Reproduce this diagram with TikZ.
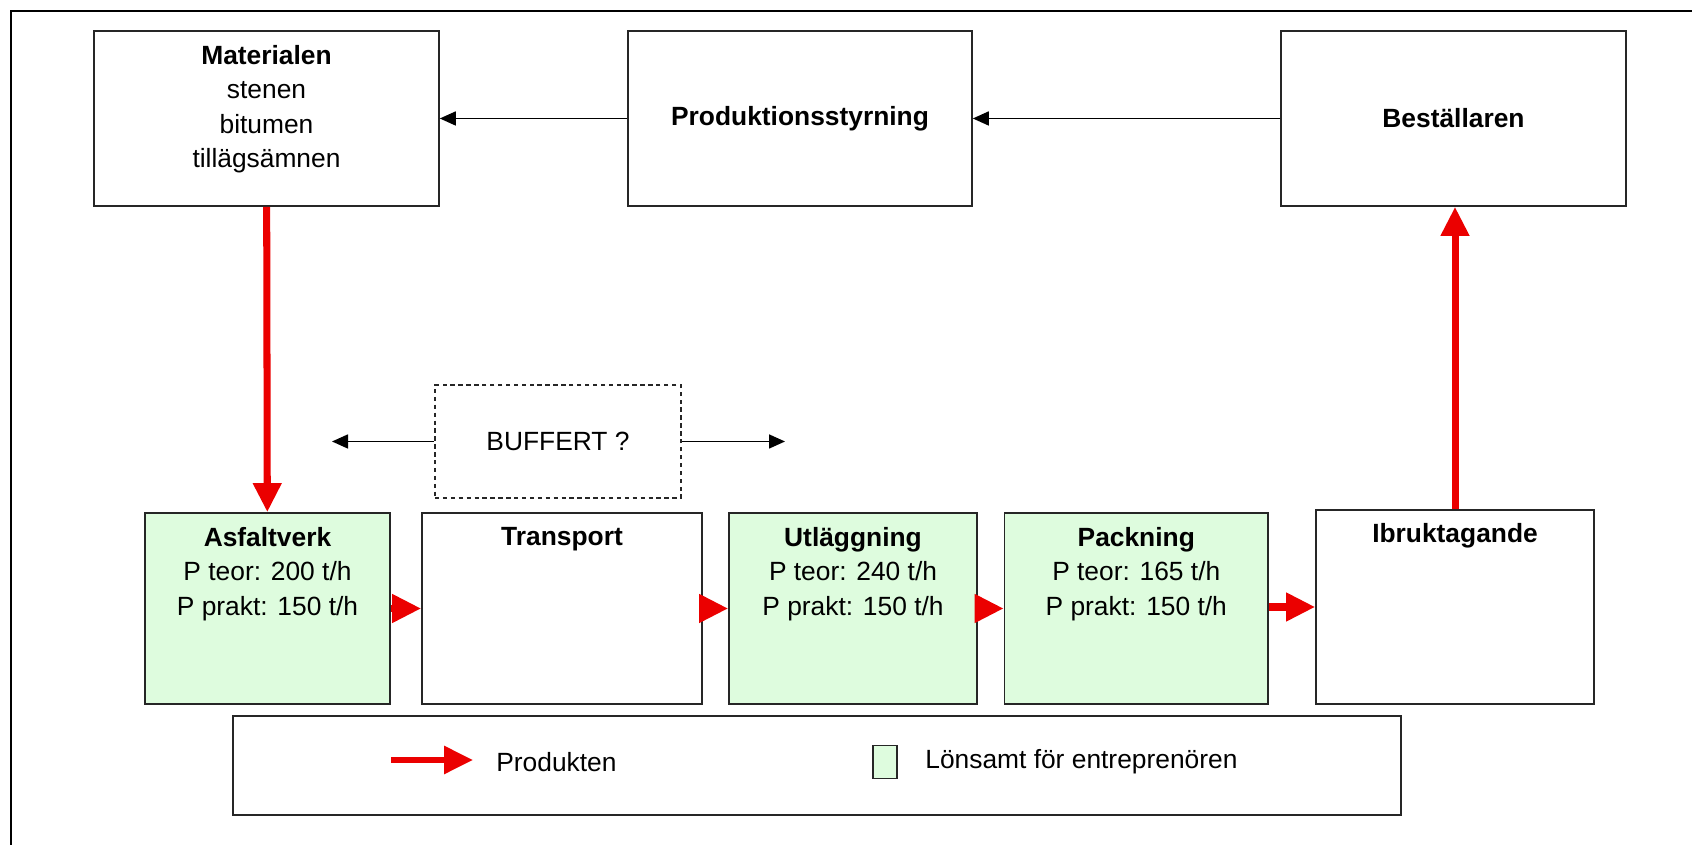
\documentclass[tikz,border=0pt]{standalone}
\usepackage{fontspec}
\setmainfont{Liberation Sans}
\definecolor{lonsgreen}{RGB}{222, 252, 222}
\definecolor{prodred}{RGB}{235, 0, 0}
\usetikzlibrary{arrows.meta, positioning}

\begin{document}
\begin{tikzpicture}[
  box/.style={draw=black!85, line width=0.9pt, inner sep=0pt, align=center,
              font=\fontsize{15}{19.6}\selectfont},
  txt/.style={inner sep=0pt, align=center, font=\fontsize{15}{19.6}\selectfont},
  prodarrow/.style={-{Triangle[length=0.58cm, width=0.54cm]}, line width=4pt, prodred},
  ctrlarrow/.style={-{Triangle[length=0.32cm, width=0.28cm]}, line width=0.9pt},
]
\useasboundingbox (0,0) rectangle (33.84,16.9);

% Frame
\draw[line width=1pt] (0.22,0) -- (0.22,16.68) -- (33.84,16.68);

% Top row
\node[box, minimum width=6.9cm, minimum height=3.5cm] (mat) at (5.33,14.53) {};
\node[txt, below=0.29cm of mat.north] (matT) {\textbf{Materialen}\\stenen\\bitumen\\tillägsämnen};
\node[box, minimum width=6.88cm, minimum height=3.5cm] (prod) at (16.0,14.53) {\textbf{Produktionsstyrning}};
\node[box, minimum width=6.9cm, minimum height=3.5cm] (best) at (29.07,14.53) {\textbf{Beställaren}};

\draw[ctrlarrow] (best) -- (prod);
\draw[ctrlarrow] (prod) -- (mat);

% Buffer
\node[box, dash pattern=on 2.5pt off 2pt, minimum width=4.92cm, minimum height=2.26cm] (buff) at (11.16,8.07) {BUFFERT ?};
\coordinate (bufL) at (6.64,8.07);
\coordinate (bufR) at (15.7,8.07);
\draw[ctrlarrow] (buff) -- (bufL);
\draw[ctrlarrow] (buff) -- (bufR);

% Production chain
\node[box, fill=lonsgreen, minimum width=4.9cm, minimum height=3.82cm] (asf) at (5.35,4.73) {};
\node[txt, below=0.29cm of asf.north] (asfT) {\textbf{Asfaltverk}\\P teor: 200 t/h\\P prakt: 150 t/h};
\node[box, minimum width=5.6cm, minimum height=3.82cm] (trans) at (11.24,4.73) {};
\node[txt, below=0.29cm of trans.north] (transT) {\textbf{Transport}};
\node[box, fill=lonsgreen, minimum width=4.96cm, minimum height=3.82cm] (utl) at (17.06,4.73) {};
\node[txt, below=0.29cm of utl.north] (utlT) {\textbf{Utläggning}\\P teor: 240 t/h\\P prakt: 150 t/h};
\node[box, fill=lonsgreen, minimum width=5.27cm, minimum height=3.82cm] (pack) at (22.725,4.73) {};
\node[txt, below=0.29cm of pack.north] (packT) {\textbf{Packning}\\P teor: 165 t/h\\P prakt: 150 t/h};
\node[box, minimum width=5.56cm, minimum height=3.88cm] (ibr) at (29.1,4.76) {};
\node[txt, below=0.27cm of ibr.north] (ibrT) {\textbf{Ibruktagande}};

\draw[prodarrow] (mat) -- (asf);
\draw[prodarrow] (asf) -- (trans);
\draw[prodarrow] (trans) -- (utl);
\draw[prodarrow] (utl) -- (pack);
\draw[prodarrow] (pack.east |- ibr.west) -- (ibr.west);
\draw[prodarrow] (ibr.north) -- (ibr.north |- best.south);

% Legend
\node[box, minimum width=23.36cm, minimum height=1.98cm] (leg) at (16.34,1.59) {};
\coordinate (legA) at (7.82,1.7);
\coordinate (legB) at (9.46,1.7);
\draw[prodarrow, line width=3.4pt] (legA) -- (legB);
\node[txt, anchor=west] (legP) at (9.92,1.66) {Produkten};
\node[box, fill=lonsgreen, minimum width=0.48cm, minimum height=0.66cm] (legG) at (17.7,1.66) {};
\node[txt, anchor=west] (legL) at (18.5,1.66) {Lönsamt för entreprenören};
\end{tikzpicture}
\end{document}
